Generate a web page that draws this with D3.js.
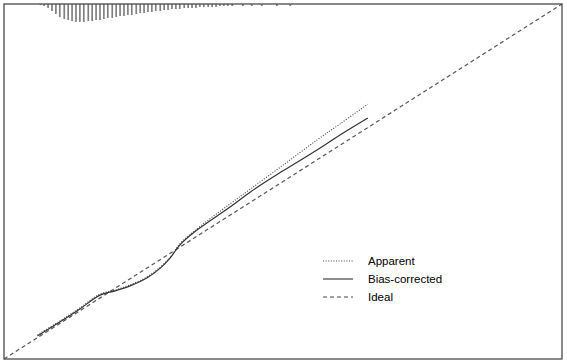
<!DOCTYPE html>
<html>
<head>
<meta charset="utf-8">
<script src="https://cdn.jsdelivr.net/npm/d3@7"></script>
<style>
  html, body { margin: 0; padding: 0; background: #fff; }
  svg { display: block; font-family: "Liberation Sans", Arial, sans-serif; }
</style>
</head>
<body>
<div id="chart"></div>
<script>
// Predicted probability (x) and observed (y) for the calibration curves.
var predicted = [0.060, 0.100, 0.136, 0.172, 0.199, 0.226, 0.256, 0.280, 0.298, 0.315, 0.339, 0.405, 0.441, 0.500, 0.561, 0.602, 0.652];
var apparent = [0.068, 0.107, 0.144, 0.183, 0.194, 0.209, 0.231, 0.259, 0.287, 0.324, 0.358, 0.437, 0.478, 0.546, 0.617, 0.662, 0.718];
var biasCorrected = [0.065, 0.104, 0.141, 0.180, 0.192, 0.206, 0.228, 0.256, 0.285, 0.321, 0.355, 0.428, 0.470, 0.530, 0.589, 0.631, 0.679];

// Distribution of predicted probabilities (rug histogram at the top).
var histX = [0.065, 0.072, 0.079, 0.086, 0.093, 0.100, 0.108, 0.115, 0.122, 0.129,
             0.136, 0.143, 0.151, 0.158, 0.165, 0.172, 0.179, 0.186, 0.194, 0.201,
             0.208, 0.215, 0.222, 0.229, 0.237, 0.244, 0.251, 0.258, 0.265, 0.272,
             0.280, 0.287, 0.294, 0.301, 0.308, 0.315, 0.323, 0.330, 0.337, 0.344,
             0.351, 0.358, 0.366, 0.373, 0.380, 0.387, 0.394, 0.401, 0.409,
             0.428, 0.444, 0.462, 0.489, 0.513];
var histCount = [1, 2, 4, 7, 10, 13, 15, 16, 17, 18,
                 18, 18, 17, 17, 16, 16, 15, 14, 14, 13,
                 12, 12, 11, 11, 10, 9, 9, 8, 8, 7,
                 7, 6, 6, 5, 5, 5, 4, 4, 4, 4,
                 3, 3, 3, 3, 3, 2, 2, 2, 2,
                 2, 2, 2, 2, 2];

var legendLabels = ['Apparent', 'Bias-corrected', 'Ideal'];

(function() {
    var width = 567, height = 364;
    var m = { left: 4, right: 562, top: 4, bottom: 359 };

    var x = d3.scaleLinear().domain([0, 1]).range([m.left, m.right]);
    var y = d3.scaleLinear().domain([0, 1]).range([m.bottom, m.top]);
    var h = d3.scaleLinear().domain([0, d3.max(histCount)]).range([0, 18]);

    var svg = d3.select('#chart')
        .append('svg')
        .attr('width', width)
        .attr('height', height);

    // Histogram spikes hanging from the top.
    svg.selectAll('.spike')
        .data(histX)
        .enter()
        .append('line')
        .attr('class', 'spike')
        .attr('x1', function(d) { return x(d); })
        .attr('x2', function(d) { return x(d); })
        .attr('y1', m.top)
        .attr('y2', function(d, i) { return m.top + h(histCount[i]); })
        .attr('stroke', '#808080')
        .attr('stroke-width', 1.7);

    // Ideal line.
    svg.append('line')
        .attr('x1', x(0)).attr('y1', y(0))
        .attr('x2', x(1)).attr('y2', y(1))
        .attr('stroke', '#555')
        .attr('stroke-width', 1.2)
        .attr('stroke-dasharray', '4,3');

    var line = d3.line()
        .x(function(d) { return x(d[0]); })
        .y(function(d) { return y(d[1]); })
        .curve(d3.curveCatmullRom);

    svg.append('path')
        .datum(d3.zip(predicted, apparent))
        .attr('d', line)
        .attr('fill', 'none')
        .attr('stroke', '#444')
        .attr('stroke-width', 1.1)
        .attr('stroke-dasharray', '1,1.6');

    svg.append('path')
        .datum(d3.zip(predicted, biasCorrected))
        .attr('d', line)
        .attr('fill', 'none')
        .attr('stroke', '#333')
        .attr('stroke-width', 1.2);

    // Frame.
    svg.append('rect')
        .attr('x', m.left).attr('y', m.top)
        .attr('width', m.right - m.left).attr('height', m.bottom - m.top)
        .attr('fill', 'none')
        .attr('stroke', '#4a4a4a')
        .attr('stroke-width', 1.3);

    // Legend.
    var dashes = ['1,1.6', null, '4,3'];
    var legend = svg.selectAll('.legend')
        .data(legendLabels)
        .enter()
        .append('g')
        .attr('class', 'legend')
        .attr('transform', function(d, i) { return 'translate(323,' + (261 + i * 18) + ')'; });

    legend.append('line')
        .attr('x1', 0).attr('x2', 30)
        .attr('stroke', '#444')
        .attr('stroke-width', 1.2)
        .attr('stroke-dasharray', function(d, i) { return dashes[i]; });

    legend.append('text')
        .attr('x', 45)
        .attr('dy', '.35em')
        .attr('font-size', '11.5px')
        .attr('fill', '#000')
        .text(function(d) { return d; });
})();
</script>
</body>
</html>
